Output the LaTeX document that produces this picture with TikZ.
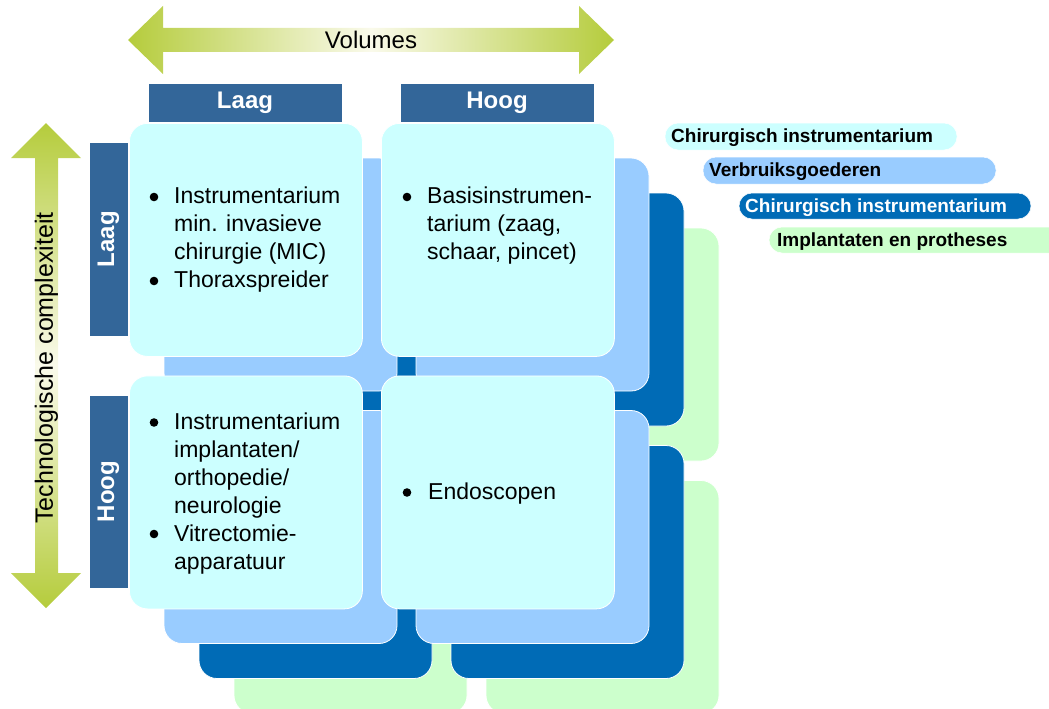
\documentclass[tikz,border=0pt]{standalone}
\usepackage{fontspec}
\setmainfont{Liberation Sans}
\definecolor{cyanbox}{HTML}{CCFFFF}
\definecolor{lbluebox}{HTML}{99CCFF}
\definecolor{dbluebox}{HTML}{006BB6}
\definecolor{greenbox}{HTML}{CCFFCC}
\definecolor{hdr}{HTML}{336699}
\definecolor{ag}{HTML}{B5CC3C}
\definecolor{agmid}{HTML}{FAFAEB}
\begin{document}
\begin{tikzpicture}[x=1pt,y=-1pt,
  layer/.style={draw=white, line width=0.8pt, rounded corners=18pt},
  cbox/.style={draw=white, line width=0.8pt, rounded corners=18pt, fill=cyanbox,
    minimum width=233pt, minimum height=233pt, inner sep=0pt, anchor=north west},
  hbox/.style={fill=hdr, draw=white, line width=0.5pt, text=white,
    font=\fontsize{24}{28}\selectfont\bfseries, inner sep=0pt,
    minimum height=39pt},
  qtext/.style={anchor=base west, inner sep=0pt, font=\fontsize{23}{28}\selectfont},
  qbullet/.style={fill=black},
  pill/.style={rounded corners=13pt, draw=white, line width=0.5pt},
  ptext/.style={anchor=base west, inner sep=0pt, font=\fontsize{19}{22}\selectfont\bfseries},
]
\useasboundingbox (0,0) rectangle (1049,709);
\clip (0,0) rectangle (1049,709);

% axis arrows
\shade[left color=ag, right color=ag, middle color=agmid]
  (128,40) -- (163,6) -- (163,28) -- (579,28) -- (579,6) -- (614,40)
  -- (579,74) -- (579,52) -- (163,52) -- (163,74) -- cycle;
\node[font=\fontsize{24}{28}\selectfont, inner sep=0pt] (vol) at (371,40) {Volumes};

\shade[top color=ag, bottom color=ag, middle color=agmid]
  (46,123) -- (81,158) -- (58,158) -- (58,573) -- (81,573) -- (46,608)
  -- (11,573) -- (35,573) -- (35,158) -- (11,158) -- cycle;
\node[font=\fontsize{25}{30}\selectfont, inner sep=0pt, rotate=90] (tc) at (46.5,368) {Technologische complexiteit};

% headers
\node[hbox, minimum width=194pt] (hlaag) at (245,102.5) {Laag};
\node[hbox, minimum width=194pt] (hhoog) at (497,102.5) {Hoog};
\node[hbox, minimum width=194pt, rotate=90] (vlaag) at (108.5,239) {Laag};
\node[hbox, minimum width=193pt, rotate=90] (vhoog) at (108.5,491.5) {Hoog};

% stacked layers
\foreach \qx/\qy in {129/123, 381/123, 129/375.5, 381/375.5} {
  \path[layer, fill=greenbox] (\qx+105,\qy+105) rectangle ++(233,233);
}
\foreach \qx/\qy in {129/123, 381/123, 129/375.5, 381/375.5} {
  \path[layer, fill=dbluebox] (\qx+70,\qy+70) rectangle ++(233,233);
}
\foreach \qx/\qy in {129/123, 381/123, 129/375.5, 381/375.5} {
  \path[layer, fill=lbluebox] (\qx+35,\qy+35) rectangle ++(233,233);
}
\node[cbox] (tl) at (129,123) {};
\node[cbox] (tr) at (381,123) {};
\node[cbox] (bl) at (129,375.5) {};
\node[cbox] (br) at (381,375.5) {};

% quadrant texts
\node[qtext] (tlt) at (174,203) {\begin{tabular}[t]{@{}l@{}}Instrumentarium\\ min. invasieve\\ chirurgie (MIC)\\ Thoraxspreider\end{tabular}};
\node[qtext] (trt) at (427,203) {\begin{tabular}[t]{@{}l@{}}Basisinstrumen-\\ tarium (zaag,\\ schaar, pincet)\end{tabular}};
\node[qtext] (blt) at (174,429) {\begin{tabular}[t]{@{}l@{}}Instrumentarium\\ implantaten/\\ orthopedie/\\ neurologie\\ Vitrectomie-\\ apparatuur\end{tabular}};
\node[qtext] (brt) at (428,499) {Endoscopen};

% bullets
\foreach \bx/\by in {154/197, 154/281, 407/197, 154/422.5, 154/534, 407/492.5}
  \fill[qbullet] (\bx,\by) circle (4.3);

% legend
\path[pill, fill=cyanbox] (665,123) rectangle (957,150);
\node[ptext] (p1) at (671,142) {Chirurgisch instrumentarium};
\path[pill, fill=lbluebox] (703,157) rectangle (996,184);
\node[ptext] (p2) at (709,176) {Verbruiksgoederen};
\path[pill, fill=dbluebox] (739,193) rectangle (1031,219);
\node[ptext, text=white] (p3) at (745,212) {Chirurgisch instrumentarium};
\path[pill, fill=greenbox] (769,227) rectangle (1062,253);
\node[ptext] (p4) at (777,246) {Implantaten en protheses};
\end{tikzpicture}
\end{document}
